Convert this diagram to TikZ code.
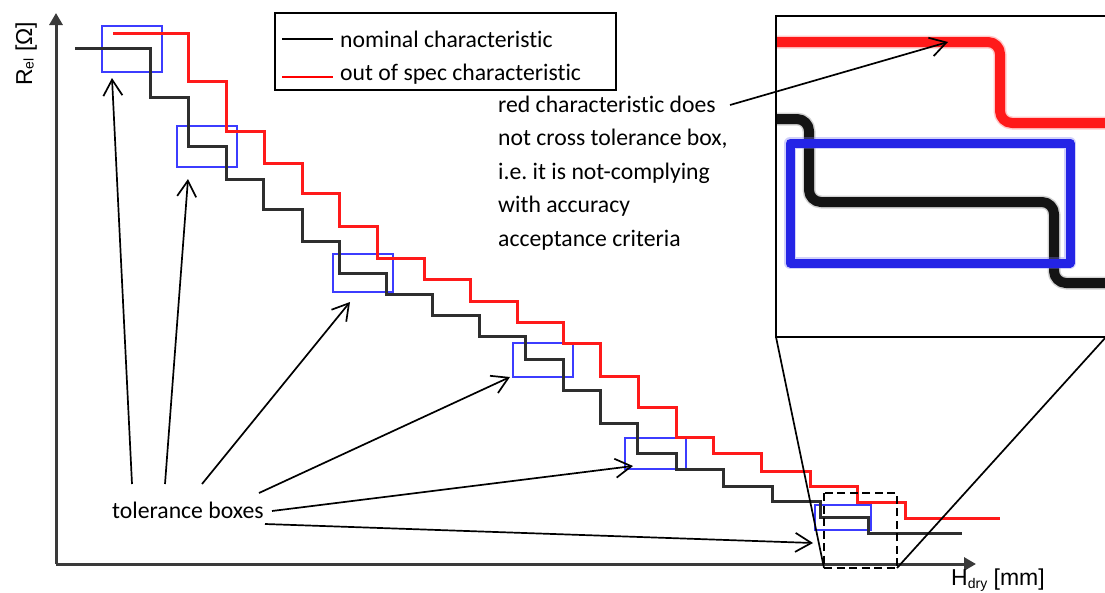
\documentclass[tikz,border=0pt]{standalone}
\usepackage{fontspec}
\setmainfont{Carlito}[Ligatures={NoCommon}]
\newfontfamily\axisfont{Liberation Sans}
\usetikzlibrary{arrows.meta}
\definecolor{curveblack}{HTML}{2E2E2E}
\definecolor{curvered}{HTML}{FF1A1A}
\definecolor{boxblue}{HTML}{3C3CFF}
\definecolor{axisgray}{HTML}{3A3A3A}
\definecolor{insetblue}{HTML}{2424E6}
\begin{document}
\frenchspacing
\begin{tikzpicture}[x=1pt,y=-1pt,
  curve/.style={line width=3pt},
  tolbox/.style={draw=boxblue,line width=2pt},
  callout/.style={line width=1.7pt,-{Straight Barb[length=16pt,width=19pt,line width=1.7pt]}},
  axisline/.style={draw=axisgray,line width=3pt,-{Triangle[length=12pt,width=13pt]}},
  lbl/.style={inner sep=0pt,font=\fontsize{23.7}{28}\selectfont},
  axlbl/.style={inner sep=0pt,font=\axisfont\fontsize{23}{26}\selectfont},
  insetline/.style={line width=10pt,rounded corners=12pt,line join=round},
  insetglow/.style={line width=13pt,rounded corners=12pt,line join=round,opacity=0.35},
  zoomline/.style={line width=1.7pt}
]
\useasboundingbox (0,0) rectangle (1105,592);
\clip (0,0) rectangle (1105,592);

% axes
\coordinate (origin) at (56,564);
\coordinate (ytop) at (56,13);
\coordinate (xend) at (976,564);
\draw[axisline] (origin) -- (ytop);
\draw[axisline] (origin) -- (xend);
\node[axlbl,rotate=90,anchor=base west] (ylabel) at (32,86) {R\raisebox{-1.5pt}{\fontsize{14}{14}\selectfont el} [Ω]};
\node[axlbl,anchor=base west] (xlabel) at (951,585) {H\raisebox{-3pt}{\fontsize{14}{14}\selectfont dry} [mm]};

% tolerance boxes
\draw[tolbox] (102,26) rectangle (162,72);
\draw[tolbox] (177,126) rectangle (237,167);
\draw[tolbox] (333,254) rectangle (393,292);
\draw[tolbox] (513,343) rectangle (573,377);
\draw[tolbox] (625,438) rectangle (686,469);
\draw[tolbox] (815,505) rectangle (871,530);

% nominal characteristic
\draw[curve,draw=curveblack] (75,48) -| (150,97) -| (188,146) -| (226,179) -| (263,209)
  -| (302,241) -| (339,273) -| (386,294) -| (432,315) -| (479,336) -| (525,359)
  -| (563,390) -| (600,423) -| (637,453) -| (676,469) -| (723,486) -| (772,501)
  -| (820,517) -| (868,533) -- (962,533);

% out of spec characteristic
\draw[curve,draw=curvered] (113,33) -| (188,81) -| (226,131) -| (264,163) -| (302,193)
  -| (339,226) -| (377,258) -| (424,279) -| (470,301) -| (517,322) -| (563,343)
  -| (600,376) -| (638,407) -| (676,437) -| (713,453) -| (761,471) -| (810,486)
  -| (857,502) -| (905,518) -- (1000,518);

% dashed zoom region
\coordinate (dtl) at (824,493);
\coordinate (dbr) at (897,568);
\coordinate (dbl) at (824,568);
\draw[line width=2.8pt,dash pattern=on 8pt off 4.5pt] (dtl) rectangle (dbr);

% legend
\draw[line width=1.6pt] (275,13) rectangle (616,90);
\draw[line width=2.4pt,draw=black] (282,39) -- (333,39);
\draw[line width=2.4pt,draw=red] (282,77) -- (333,77);
\node[lbl,anchor=base west] (legnom) at (340,47) {nominal characteristic};
\node[lbl,anchor=base west] (legout) at (340,80) {out of spec characteristic};

% explanation text
\node[lbl,anchor=base west] (t1) at (498,112) {red characteristic does};
\node[lbl,anchor=base west] (t2) at (498,145.5) {not cross tolerance box,};
\node[lbl,anchor=base west] (t3) at (498,179) {i.e. it is not-complying};
\node[lbl,anchor=base west] (t4) at (498,212.5) {with accuracy};
\node[lbl,anchor=base west] (t5) at (498,246) {acceptance criteria};

% inset
\coordinate (itl) at (776,16);
\coordinate (ibr) at (1106,337);
\coordinate (ibl) at (776,337);
\begin{scope}
  \clip (itl) rectangle (ibr);
  \draw[insetglow,draw=red!60] (770,42) -- (1000,42) -- (1000,123) -- (1120,123);
  \draw[insetline,draw=curvered] (770,42) -- (1000,42) -- (1000,123) -- (1120,123);
  \draw[insetglow,draw=black!50] (770,119) -- (809,119) -- (809,202) -- (1054,202) -- (1054,283) -- (1120,283);
  \draw[insetline,draw=black!92] (770,119) -- (809,119) -- (809,202) -- (1054,202) -- (1054,283) -- (1120,283);
  \draw[line width=12pt,draw=insetblue!60,opacity=0.35,line join=round] (790,143) rectangle (1070,263);
  \draw[line width=9pt,draw=insetblue,line join=round] (790,143) rectangle (1070,263);
\end{scope}
\draw[line width=2pt] (itl) rectangle (ibr);
\draw[zoomline] (dbl) -- (ibl);
\draw[zoomline] (dbr) -- (ibr);

% callout arrow to inset
\coordinate (cs) at (730,105);
\coordinate (ce) at (948,42);
\draw[callout] (cs) -- (ce);

% tolerance boxes label and arrows
\node[lbl,anchor=base west] (tol) at (112,518) {tolerance boxes};
\coordinate (a1s) at (132,484); \coordinate (a1e) at (112,78);
\coordinate (a2s) at (165,484); \coordinate (a2e) at (188,179);
\coordinate (a3s) at (202,484); \coordinate (a3e) at (350,302);
\coordinate (a4s) at (259,493); \coordinate (a4e) at (510,377);
\coordinate (a5s) at (272,511); \coordinate (a5e) at (633,466);
\coordinate (a6s) at (265,524); \coordinate (a6e) at (813,543);
\draw[callout] (a1s) -- (a1e);
\draw[callout] (a2s) -- (a2e);
\draw[callout] (a3s) -- (a3e);
\draw[callout] (a4s) -- (a4e);
\draw[callout] (a5s) -- (a5e);
\draw[callout] (a6s) -- (a6e);
\end{tikzpicture}
\end{document}
